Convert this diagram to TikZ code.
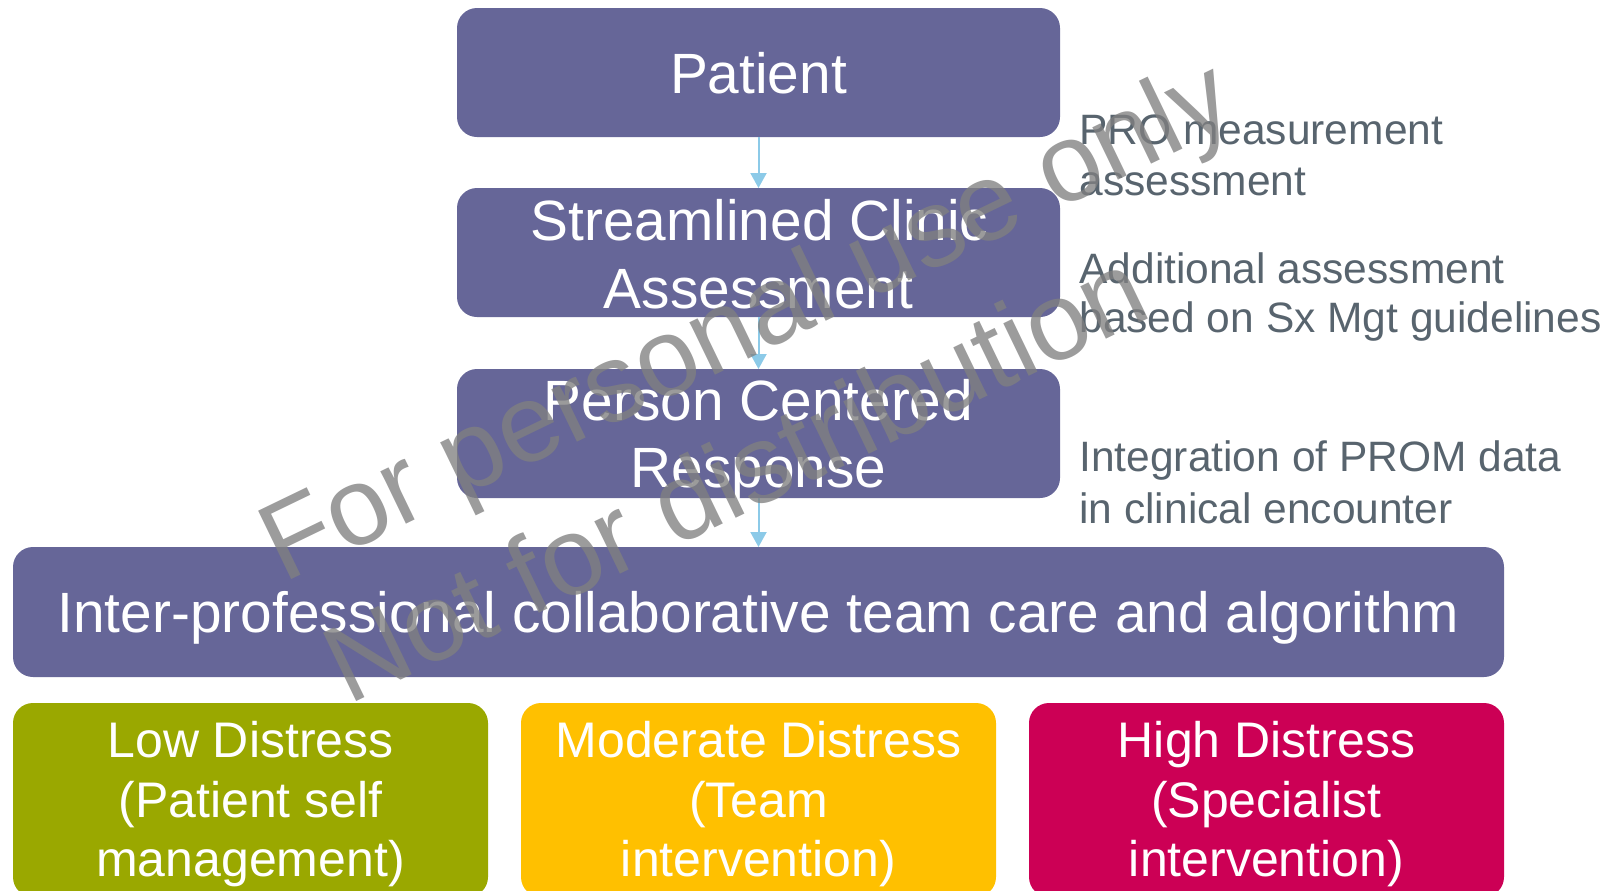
\documentclass[tikz,border=0pt]{standalone}
\usepackage{fontspec}
\setmainfont{Liberation Sans}
\usetikzlibrary{arrows.meta}
\definecolor{boxpurple}{RGB}{102,102,152}
\definecolor{lowgreen}{RGB}{154,168,0}
\definecolor{modyellow}{RGB}{255,192,0}
\definecolor{highred}{RGB}{204,0,85}
\definecolor{arrowblue}{RGB}{140,202,232}
\definecolor{notegray}{RGB}{88,100,110}
\definecolor{wmgray}{RGB}{128,128,128}
\begin{document}
\begin{tikzpicture}[x=0.5pt,y=-0.5pt,
  box/.style={rectangle, rounded corners=10pt, inner sep=0pt, outer sep=0pt, draw=none},
  topbox/.style={box, fill=boxpurple, minimum width=301.5pt, minimum height=64.5pt},
  lvlbox/.style={box, minimum width=237.5pt, minimum height=97pt},
  btext/.style={text=white, inner sep=0pt, anchor=base, font=\fontsize{28.4}{34}\selectfont},
  ltext/.style={text=white, inner sep=0pt, anchor=base, font=\fontsize{25}{30}\selectfont},
  note/.style={text=notegray, inner sep=0pt, anchor=base west, font=\fontsize{21.25}{26}\selectfont},
  wm/.style={text=wmgray, text opacity=0.78, inner sep=0pt, anchor=base west, rotate=25.8, font=\fontsize{55.2}{60}\selectfont},
  flow/.style={draw=arrowblue, line width=1pt, -{Triangle[width=8pt,length=7.5pt]}}
]
\useasboundingbox (0,0) rectangle (1611,890);
\clip (0,0) rectangle (1611,890);

% main boxes
\node[topbox] (patient) at (758.5,72.5) {};
\node[topbox] (stream) at (758.5,252.5) {};
\node[topbox] (person) at (758.5,433.5) {};
\node[box, fill=boxpurple, minimum width=745.5pt, minimum height=65pt] (inter) at (758.5,612) {};
\node[lvlbox, fill=lowgreen] (low) at (250.5,800) {};
\node[lvlbox, fill=modyellow] (mod) at (758.5,800) {};
\node[lvlbox, fill=highred] (high) at (1266.5,800) {};

% connectors
\draw[flow] (patient.south) -- (stream.north);
\draw[flow] (stream.south) -- (person.north);
\draw[flow] (person.south) -- (inter.north);

% box texts
\node[btext] (tpatient) at (758.5,93) {Patient};
\node[btext] (tstream1) at (759.5,240) {Streamlined Clinic};
\node[btext] (tstream2) at (758.5,308) {Assessment};
\node[btext] (tperson1) at (758.5,420) {Person Centered};
\node[btext] (tperson2) at (758.5,487.5) {Response};
\node[btext] (tinter) at (758.5,632.5) {Inter-professional collaborative team care and algorithm};

\node[ltext] (tlow1) at (250.5,757) {Low Distress};
\node[ltext] (tlow2) at (250.5,817) {(Patient self};
\node[ltext] (tlow3) at (250.5,876) {management)};
\node[ltext] (tmod1) at (758.5,757) {Moderate Distress};
\node[ltext] (tmod2) at (758.5,817) {(Team};
\node[ltext] (tmod3) at (758.5,876) {intervention)};
\node[ltext] (thigh1) at (1266.5,757) {High Distress};
\node[ltext] (thigh2) at (1266.5,817) {(Specialist};
\node[ltext] (thigh3) at (1266.5,876) {intervention)};

% side notes
\node[note] (n1a) at (1079,144) {PRO measurement};
\node[note] (n1b) at (1079,195) {assessment};
\node[note] (n2a) at (1079,283) {Additional assessment};
\node[note] (n2b) at (1079,332.5) {based on Sx Mgt guidelines};
\node[note] (n3a) at (1079,471) {Integration of PROM data};
\node[note] (n3b) at (1079,523.5) {in clinical encounter};

% watermark
\node[wm] (wm1) at (283,584) {For personal use only};
\node[wm] (wm2) at (348.4,705.6) {Not for distribution};
\end{tikzpicture}
\end{document}
